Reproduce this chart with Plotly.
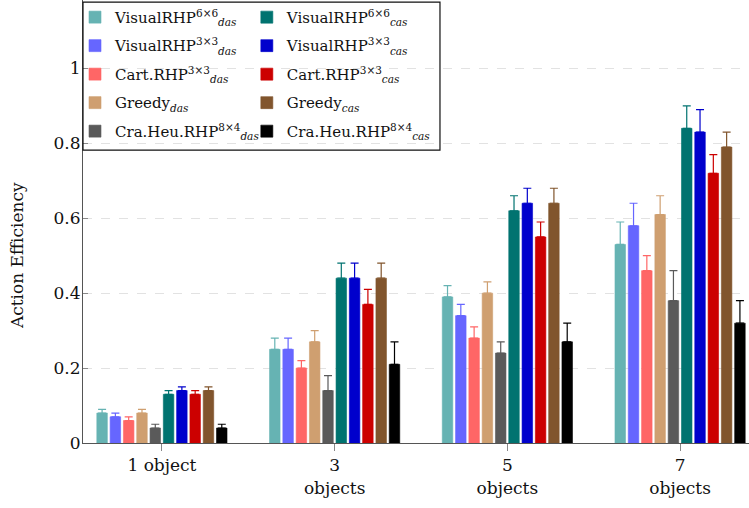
import plotly.graph_objects as go

categories = ["1 object", "3<br>objects", "5<br>objects", "7<br>objects"]

series_names = [
    "VisualRHP<sup>6×6</sup><sub><i>das</i></sub>",
    "VisualRHP<sup>3×3</sup><sub><i>das</i></sub>",
    "Cart.RHP<sup>3×3</sup><sub><i>das</i></sub>",
    "Greedy<sub><i>das</i></sub>",
    "Cra.Heu.RHP<sup>8×4</sup><sub><i>das</i></sub>",
    "VisualRHP<sup>6×6</sup><sub><i>cas</i></sub>",
    "VisualRHP<sup>3×3</sup><sub><i>cas</i></sub>",
    "Cart.RHP<sup>3×3</sup><sub><i>cas</i></sub>",
    "Greedy<sub><i>cas</i></sub>",
    "Cra.Heu.RHP<sup>8×4</sup><sub><i>cas</i></sub>",
]

vis66_das = [0.08, 0.25, 0.39, 0.53]
vis33_das = [0.07, 0.25, 0.34, 0.58]
cart_das = [0.06, 0.20, 0.28, 0.46]
greedy_das = [0.08, 0.27, 0.40, 0.61]
cra_das = [0.04, 0.14, 0.24, 0.38]
vis66_cas = [0.13, 0.44, 0.62, 0.84]
vis33_cas = [0.14, 0.44, 0.64, 0.83]
cart_cas = [0.13, 0.37, 0.55, 0.72]
greedy_cas = [0.14, 0.44, 0.64, 0.79]
cra_cas = [0.04, 0.21, 0.27, 0.32]

vis66_das_err = [0.01, 0.03, 0.03, 0.06]
vis33_das_err = [0.01, 0.03, 0.03, 0.06]
cart_das_err = [0.01, 0.02, 0.03, 0.04]
greedy_das_err = [0.01, 0.03, 0.03, 0.05]
cra_das_err = [0.01, 0.04, 0.03, 0.08]
vis66_cas_err = [0.01, 0.04, 0.04, 0.06]
vis33_cas_err = [0.01, 0.04, 0.04, 0.06]
cart_cas_err = [0.01, 0.04, 0.04, 0.05]
greedy_cas_err = [0.01, 0.04, 0.04, 0.04]
cra_cas_err = [0.01, 0.06, 0.05, 0.06]

values = [vis66_das, vis33_das, cart_das, greedy_das, cra_das,
          vis66_cas, vis33_cas, cart_cas, greedy_cas, cra_cas]
errors = [vis66_das_err, vis33_das_err, cart_das_err, greedy_das_err, cra_das_err,
          vis66_cas_err, vis33_cas_err, cart_cas_err, greedy_cas_err, cra_cas_err]

colors = ["#66b3b3", "#6666ff", "#ff6666", "#cf9f70", "#5a5a5a",
          "#007370", "#0000cc", "#cc0000", "#81552d", "#000000"]

y_ticks = [0, 0.2, 0.4, 0.6, 0.8, 1.0]
y_tick_text = ["0", "0.2", "0.4", "0.6", "0.8", "1"]

fig = go.Figure()
for i, (name, vals, errs, col) in enumerate(zip(series_names, values, errors, colors)):
    fig.add_trace(go.Bar(
        x=categories, y=vals, name=name,
        marker=dict(color=col, line=dict(color=col, width=0.6)),
        error_y=dict(type="data", symmetric=False, array=errs, arrayminus=[0] * len(errs),
                     color=col, thickness=1.2, width=4),
        legend="legend" if i < 5 else "legend2",
        legendgroup=f"g{i}",
    ))

font_family = "DejaVu Serif"
fig.update_layout(
    width=749, height=508,
    margin=dict(l=83, r=0, t=0, b=65),
    paper_bgcolor="white", plot_bgcolor="white",
    barmode="group", bargap=0.23, bargroupgap=0.21,
    font=dict(family=font_family, size=15, color="#111"),
    xaxis=dict(
        range=[-0.457, 3.399], showline=True, linecolor="#555", linewidth=1,
        ticks="outside", ticklen=7, tickcolor="#888", showgrid=False,
        tickfont=dict(size=17, family=font_family, color="#111"), zeroline=False,
    ),
    yaxis=dict(
        range=[0, 1.1826], tickvals=y_ticks, ticktext=y_tick_text,
        showline=True, linecolor="#555", linewidth=1,
        ticks="inside", ticklen=5, tickcolor="#888", ticklabelstandoff=-2,
        showgrid=True, gridcolor="#e2e2e2", griddash="dash", gridwidth=1,
        zeroline=False, tickfont=dict(size=17, family=font_family, color="#111"),
    ),
    legend=dict(x=-0.012, y=0.998, xanchor="left", yanchor="top",
                bgcolor="rgba(0,0,0,0)", font=dict(size=15, family=font_family, color="#111"),
                tracegroupgap=6, itemwidth=30),
    legend2=dict(x=0.246, y=0.998, xanchor="left", yanchor="top",
                 bgcolor="rgba(0,0,0,0)", font=dict(size=15, family=font_family, color="#111"),
                 tracegroupgap=6, itemwidth=30),
    shapes=[dict(type="rect", xref="paper", yref="paper",
                 x0=0.0, x1=0.536, y0=0.661, y1=0.995,
                 line=dict(color="#111", width=1.2), fillcolor="rgba(0,0,0,0)")],
    annotations=[dict(text="Action Efficiency", xref="paper", yref="y",
                      x=-0.1, y=0.5, textangle=-90, showarrow=False,
                      font=dict(size=17, family=font_family, color="#111"),
                      xanchor="center", yanchor="middle")],
)

fig.write_html("out.html")
